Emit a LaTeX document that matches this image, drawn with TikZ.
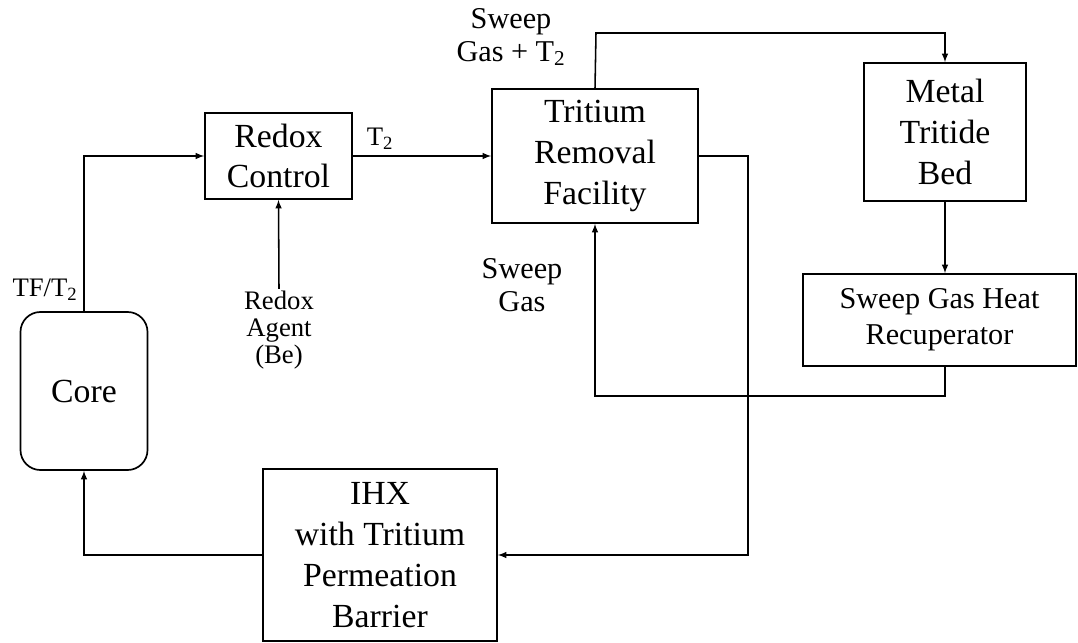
\documentclass[tikz,border=0pt]{standalone}
\usepackage{fontspec}
\setmainfont{Liberation Serif}
\usetikzlibrary{positioning}

\begin{document}
\begin{tikzpicture}[x=0.025cm, y=-0.025cm, >=latex,
    unit/.style={draw, line width=1.2pt, align=center, inner sep=2pt,
      font=\fontsize{24}{29}\selectfont},
    tag/.style={align=center, inner sep=1pt, font=\fontsize{19}{19.5}\selectfont},
    sweep/.style={tag, font=\fontsize{21.5}{23.5}\selectfont},
    flow/.style={->, line width=1.1pt}]
  \useasboundingbox (0,0) rectangle (1078,643);

  % Process units
  \node[unit, rounded corners=0.5cm, minimum width=3.175cm, minimum height=3.95cm] (core) at (84,391) {Core};
  \node[unit, minimum width=3.675cm, minimum height=2.15cm] (redox) at (278.5,156) {Redox\\Control};
  \node[unit, minimum width=5.15cm, minimum height=3.35cm] (trf) at (595,156) {Tritium\\Removal\\Facility};
  \node[unit, minimum width=4.05cm, minimum height=3.45cm] (bed) at (945,132) {Metal\\Tritide\\Bed};
  \node[unit, font=\fontsize{21.5}{25.5}\selectfont, minimum width=6.825cm, minimum height=2.3cm] (recup) at (939.5,320) {Sweep Gas Heat\\Recuperator};
  \node[unit, minimum width=5.85cm, minimum height=4.3cm] (ihx) at (380,555) {IHX\\with Tritium\\Permeation\\Barrier};

  % Stream labels
  \node[tag] (agent) at (279,330) {Redox\\Agent\\(Be)};
  \node[tag] (tft) at (45,290) {TF/T\textsubscript{2}};
  \node[tag] (ttwo) at (380,139) {T\textsubscript{2}};
  \node[sweep] (sweepout) at (511,37) {Sweep\\Gas~+~T\textsubscript{2}};
  \node[sweep] (sweepin) at (522,285) {Sweep\\Gas};

  % Corner points
  \coordinate (top) at (596,33);
  \coordinate (ret) at (945,396);
  \coordinate (drop) at (748,400);

  % Connectors
  \draw[flow] (core.north) |- (redox.west);
  \draw[flow] (agent.north) -- (redox.south);
  \draw[flow] (redox.east) -- (trf.west);
  \draw[flow] (trf.north) -- (top) -| (bed.north);
  \draw[flow] (bed.south) -- (bed.south |- recup.north);
  \draw[flow] (bed.south |- recup.south) -- (ret) -| (trf.south);
  \draw[flow] (trf.east) -| (drop) |- (ihx.east);
  \draw[flow] (ihx.west) -| (core.south);
\end{tikzpicture}
\end{document}
